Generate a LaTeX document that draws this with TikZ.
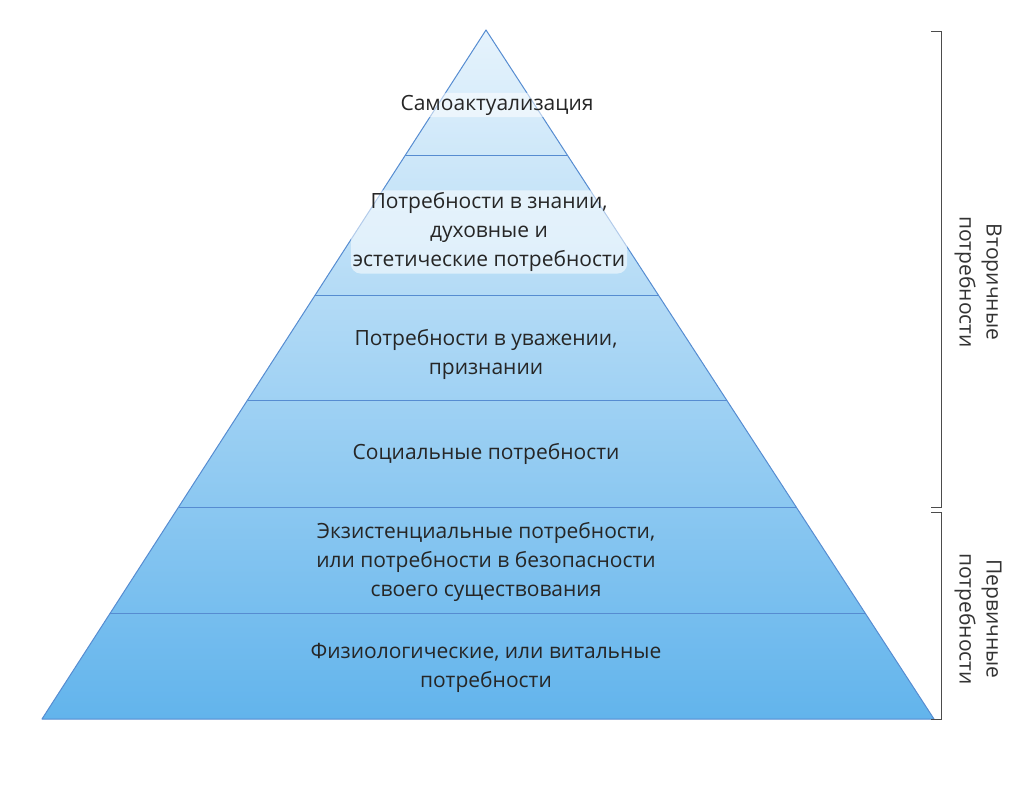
\documentclass[tikz,border=0pt]{standalone}
\usepackage{fontspec}
\setmainfont{Open Sans}
\begin{document}
\begin{tikzpicture}[x=1pt,y=-1pt,
  lbl/.style={align=center,font=\fontsize{21}{29}\selectfont,text=black!85},
  hl/.style={lbl,fill=white,fill opacity=0.55,text opacity=1,rounded corners=10pt,inner sep=2pt},
  side/.style={align=center,font=\fontsize{21}{27}\selectfont,text=black!80,rotate=-90},
  edge/.style={draw=cyan!50!blue!70,line width=1pt},
  br/.style={draw=black!70,line width=0.8pt}]
\useasboundingbox (0,0) rectangle (1024,791);
\definecolor{ptop}{HTML}{E6F3FC}
\definecolor{pbot}{HTML}{62B4EC}
\coordinate (A) at (486,30);
\coordinate (L) at (42,719);
\coordinate (R) at (934,719);
\shade[top color=ptop,bottom color=pbot] (A) -- (L) -- (R) -- cycle;
\foreach \y in {156,295,400,507,613}{
  \pgfmathsetmacro{\dx}{(\y-30)/689*444}
  \pgfmathsetmacro{\dr}{(\y-30)/689*448}
  \draw[edge] ({486-\dx},\y) -- ({486+\dr},\y);
}
\draw[edge,line join=round] (A) -- (L) -- (R) -- cycle;
\node[hl] (t1) at (497,105) {Самоактуализация};
\node[hl] (t2) at (489,232) {Потребности в знании,\\духовные и\\эстетические потребности};
\node[lbl] (t3) at (486,354) {Потребности в уважении,\\признании};
\node[lbl] (t4) at (486,454) {Социальные потребности};
\node[lbl] (t5) at (486,562) {Экзистенциальные потребности,\\или потребности в безопасности\\своего существования};
\node[lbl] (t6) at (486,668) {Физиологические, или витальные\\потребности};
\coordinate (b1t) at (941,31);
\coordinate (b1b) at (941,507);
\coordinate (b2t) at (941,512);
\coordinate (b2b) at (941,719);
\draw[br] ([xshift=-10]b1t) -- (b1t) -- (b1b) -- ([xshift=-10]b1b);
\draw[br] ([xshift=-10]b2t) -- (b2t) -- (b2b) -- ([xshift=-10]b2b);
\node[side] (s1) at (978,282) {Вторичные\\потребности};
\node[side] (s2) at (978,619) {Первичные\\потребности};
\end{tikzpicture}
\end{document}
